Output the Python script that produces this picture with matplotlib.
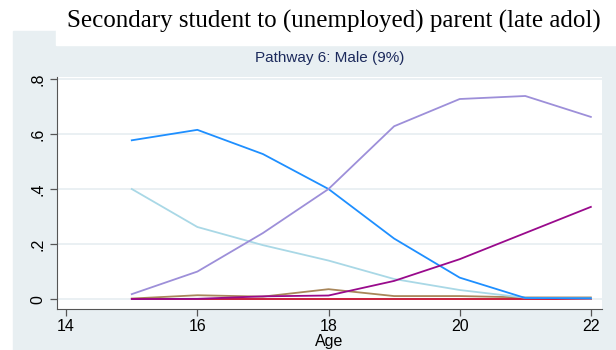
import matplotlib.pyplot as plt
from matplotlib.patches import Rectangle

# pathway shares by age
ages = [15, 16, 17, 18, 19, 20, 21, 22]
student = [0.577, 0.615, 0.527, 0.400, 0.220, 0.078, 0.004, 0.003]
student_light = [0.400, 0.262, 0.196, 0.140, 0.073, 0.033, 0.005, 0.002]
parent = [0.018, 0.100, 0.240, 0.400, 0.628, 0.727, 0.738, 0.662]
unemployed_parent = [0.000, 0.001, 0.010, 0.013, 0.066, 0.145, 0.240, 0.335]
working = [0.002, 0.014, 0.009, 0.036, 0.011, 0.011, 0.006, 0.006]
other = [0.001, 0.001, 0.001, 0.001, 0.001, 0.001, 0.001, 0.001]

series = [
    (working, '#a8865a'),
    (other, '#c8102e'),
    (student_light, '#a9d8e6'),
    (student, '#1e8fff'),
    (parent, '#9d8fd9'),
    (unemployed_parent, '#990a8c'),
]

yticks = [0, 0.2, 0.4, 0.6, 0.8]
ytick_labels = ['0', '.2', '.4', '.6', '.8']
xticks = [14, 16, 18, 20, 22]

W, H = 616, 350
fig = plt.figure(figsize=(W / 100, H / 100), dpi=100)
plt.rcParams['font.family'] = ['Liberation Sans', 'DejaVu Sans']

# graph region background and white title strip
fig.patches.append(Rectangle((13 / W, 0), 1, (350 - 31) / H, transform=fig.transFigure,
                             color='#e8eff2', zorder=-2))
fig.patches.append(Rectangle((56 / W, (350 - 45) / H), 1, 1, transform=fig.transFigure,
                             color='white', zorder=-1))

ax = fig.add_axes([57 / W, (350 - 309) / H, (602 - 57) / W, (309 - 77) / H], zorder=2)
ax.set_facecolor('white')
for vals, col in series:
    ax.plot(ages, vals, color=col, lw=1.3)

ax.set_xlim(13.86, 22.17)
ax.set_ylim(-0.036, 0.807)
ax.set_yticks(yticks)
ax.set_yticklabels(ytick_labels, rotation=90, va='center')
ax.set_xticks(xticks)
ax.grid(axis='y', color='#e6eef1', lw=1.2)
ax.set_axisbelow(True)
for s in ['top', 'right']:
    ax.spines[s].set_visible(False)
for s in ['left', 'bottom']:
    ax.spines[s].set_color('#555555')
ax.tick_params(colors='#555555', labelcolor='black', labelsize=11.5, length=5, width=0.9)
ax.tick_params(axis='x', pad=2.5)
ax.set_xlabel('Age', fontsize=11.5, labelpad=0)

fig.text(330 / W, 1 - 58 / H, 'Pathway 6: Male (9%)', ha='center', va='center',
         fontsize=11, color='#1c2a5c')
fig.text(334 / W, 1 - 21 / H, 'Secondary student to (unemployed) parent (late adol)',
         ha='center', va='center', fontsize=18, family=['Liberation Serif', 'DejaVu Serif'])

fig.savefig('out.png', dpi=100)
